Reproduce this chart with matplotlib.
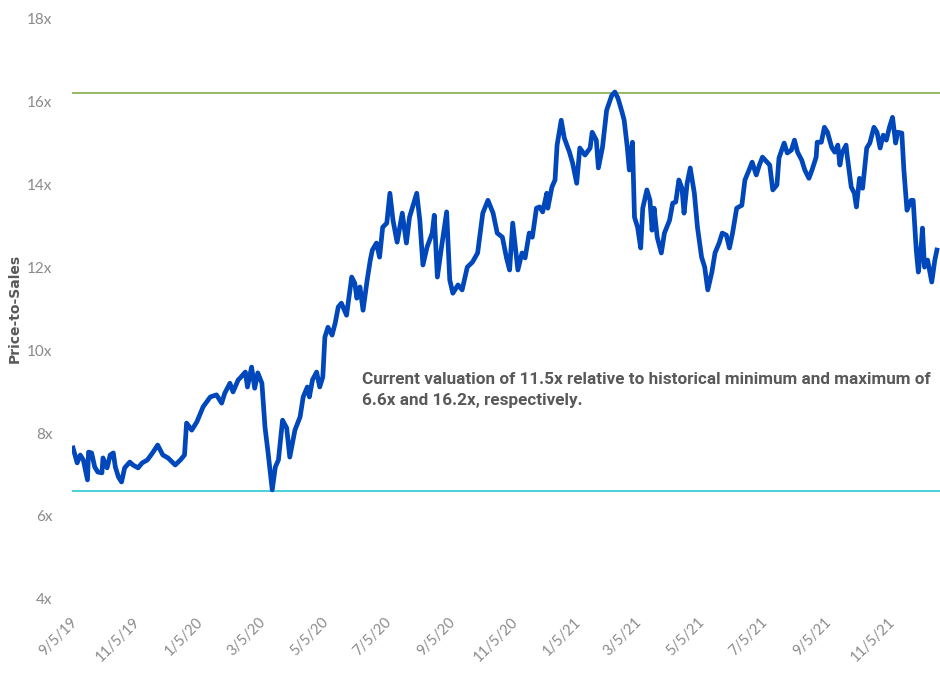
import numpy as np
import pandas as pd
import matplotlib
matplotlib.use("Agg")
import matplotlib.pyplot as plt
from matplotlib.transforms import ScaledTranslation

# days after 9/5/2019 and price-to-sales multiple
days = [-2, 2, 5, 8, 12, 13, 16, 19, 22, 26, 27, 31, 34, 37, 39, 42, 45, 48, 53, 56,
        61, 65, 70, 75, 80, 85, 90, 97, 102, 106, 108, 113, 118, 124, 131, 137, 142, 145, 150, 153,
        158, 160, 165, 167, 171, 174, 177, 181, 184, 187, 191, 194, 197, 201, 205, 208, 213, 218, 221, 225,
        227, 230, 234, 237, 240, 242, 245, 249, 252, 255, 258, 263, 268, 271, 273, 276, 279, 283, 286, 288,
        292, 295, 298, 302, 305, 308, 312, 317, 321, 324, 331, 334, 337, 341, 346, 348, 351, 355, 360, 363,
        366, 371, 375, 380, 385, 390, 395, 400, 405, 409, 414, 418, 421, 424, 429, 433, 436, 440, 443, 447,
        450, 453, 457, 458, 462, 465, 467, 471, 474, 479, 482, 486, 489, 494, 499, 501, 505, 507, 511, 515,
        520, 523, 526, 530, 532, 535, 537, 540, 542, 545, 548, 550, 554, 557, 559, 561, 564, 568, 571, 576,
        579, 582, 585, 588, 590, 593, 596, 600, 603, 607, 610, 613, 617, 620, 624, 627, 631, 634, 637, 641,
        646, 649, 653, 656, 660, 663, 666, 673, 676, 680, 682, 687, 690, 694, 697, 700, 704, 707, 711, 714,
        718, 719, 723, 726, 729, 733, 736, 739, 741, 743, 747, 748, 752, 755, 757, 760, 763, 767, 770, 774,
        777, 780, 783, 786, 789, 792, 795, 797, 801, 803, 806, 810, 812, 815, 817, 820, 821, 823, 826, 830,
        833, 835]
ps_ratio = [7.64, 7.28, 7.47, 7.35, 6.87, 7.54, 7.52, 7.18, 7.06, 7.04, 7.40, 7.16, 7.47, 7.52, 7.18, 6.94, 6.82, 7.16, 7.30, 7.23,
            7.16, 7.28, 7.35, 7.52, 7.71, 7.47, 7.40, 7.23, 7.35, 7.47, 8.24, 8.07, 8.27, 8.63, 8.87, 8.92, 8.72, 8.96, 9.20, 8.99,
            9.28, 9.33, 9.47, 9.11, 9.59, 9.08, 9.45, 9.20, 8.14, 7.52, 6.63, 7.18, 7.35, 8.31, 8.12, 7.42, 8.07, 8.39, 8.87, 9.11,
            8.87, 9.28, 9.47, 9.11, 9.35, 10.31, 10.55, 10.36, 10.65, 11.04, 11.13, 10.84, 11.76, 11.61, 11.25, 11.52, 10.96, 11.69, 12.17, 12.41,
            12.58, 12.24, 12.96, 13.06, 13.78, 13.13, 12.60, 13.30, 12.58, 13.20, 13.78, 13.13, 12.05, 12.48, 12.82, 13.25, 11.76, 12.48, 13.33, 11.69,
            11.37, 11.57, 11.45, 12.00, 12.12, 12.34, 13.30, 13.61, 13.30, 12.82, 12.72, 12.22, 11.93, 13.06, 11.93, 12.34, 12.22, 12.82, 12.72, 13.42,
            13.45, 13.33, 13.78, 13.42, 13.93, 14.10, 14.94, 15.54, 15.11, 14.77, 14.51, 14.02, 14.87, 14.70, 14.87, 15.25, 15.06, 14.39, 14.89, 15.78,
            16.14, 16.22, 16.07, 15.73, 15.54, 14.89, 14.34, 15.01, 13.20, 12.96, 12.46, 13.42, 13.86, 13.61, 12.89, 13.42, 12.72, 12.34, 12.82, 13.13,
            13.54, 13.57, 14.10, 13.90, 13.30, 14.02, 14.39, 13.78, 12.96, 12.24, 12.00, 11.45, 11.88, 12.34, 12.58, 12.82, 12.77, 12.46, 12.82, 13.42,
            13.49, 14.10, 14.34, 14.53, 14.22, 14.46, 14.65, 14.46, 13.86, 13.98, 14.63, 14.99, 14.75, 14.82, 15.06, 14.77, 14.58, 14.34, 14.14, 14.34,
            14.65, 15.01, 15.01, 15.37, 15.25, 14.89, 14.77, 14.94, 14.46, 14.75, 14.94, 14.70, 13.93, 13.78, 13.45, 14.14, 13.90, 14.87, 14.99, 15.37,
            15.25, 14.87, 15.18, 15.06, 15.37, 15.61, 14.99, 15.25, 15.23, 14.34, 13.37, 13.61, 13.61, 12.41, 11.88, 12.58, 12.94, 12.00, 12.17, 11.64,
            12.17, 12.41]

hist_max = 16.2
hist_min = 6.6

tick_dates = ["2019-09-05", "2019-11-05", "2020-01-05", "2020-03-05", "2020-05-05", "2020-07-05", "2020-09-05",
              "2020-11-05", "2021-01-05", "2021-03-05", "2021-05-05", "2021-07-05", "2021-09-05", "2021-11-05"]
y_ticks = [4, 6, 8, 10, 12, 14, 16, 18]
note = ("Current valuation of 11.5x relative to historical minimum and maximum of\n"
        "6.6x and 16.2x, respectively.")

start = pd.Timestamp("2019-09-05")
dates = start + pd.to_timedelta(days, unit="D")
ticks = pd.to_datetime(tick_dates)

fig = plt.figure(figsize=(9.4, 6.73), dpi=100)
ax = fig.add_axes([0.0766, 0.110, 0.9234, 0.863])

ax.plot(dates, ps_ratio, color="#0047BB", linewidth=3.4, zorder=3)
ax.axhline(hist_max, color="#8DB255", linewidth=1.3, zorder=2)
ax.axhline(hist_min, color="#3CCFD9", linewidth=1.3, zorder=2)

ax.set_ylim(4, 18)
ax.set_yticks(y_ticks)
ax.set_yticklabels([f"{t}x" for t in y_ticks], family="Lato", fontsize=11)
ax.set_xlim(start - pd.Timedelta(days=3), start + pd.Timedelta(days=838))
ax.set_xticks(ticks)
ax.set_xticklabels([f"{d.month}/{d.day}/{d.year % 100}" for d in ticks],
                   rotation=45, ha="right", va="center", rotation_mode="anchor",
                   family="Lato", fontsize=10.5)
shift = ScaledTranslation(6 / 72, 0, fig.dpi_scale_trans)
for lab in ax.get_xticklabels():
    lab.set_transform(lab.get_transform() + shift)

ax.tick_params(axis="both", length=0, colors="#8A8A8A")
ax.tick_params(axis="y", pad=14)
ax.tick_params(axis="x", pad=15)
for s in ax.spines.values():
    s.set_visible(False)

ax.set_ylabel("Price-to-Sales", fontsize=10, fontweight="bold", color="#595959", labelpad=4)

ax.text(0.334, 0.39, note, transform=ax.transAxes, ha="left", va="top",
        fontsize=12.3, fontweight="bold", color="#595959", linespacing=1.45,
        family=["Roboto", "DejaVu Sans"])

fig.savefig("out.png", dpi=100)
